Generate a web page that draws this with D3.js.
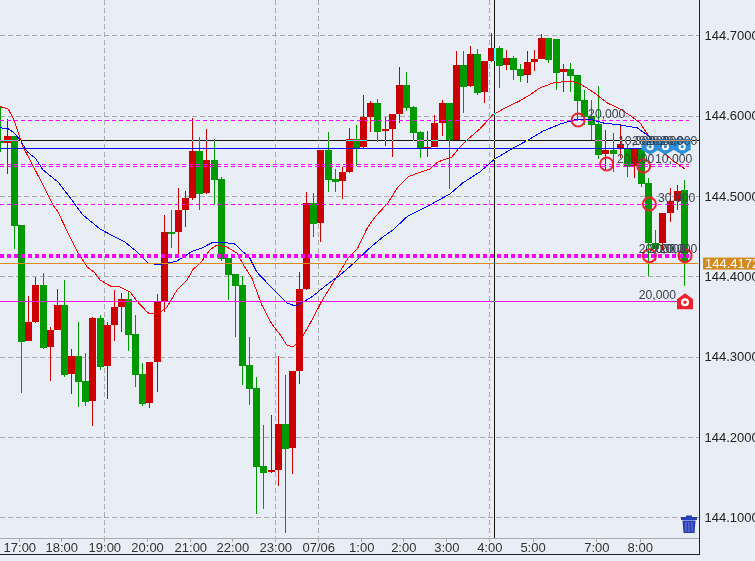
<!DOCTYPE html>
<html>
<head>
<meta charset="utf-8">
<script src="https://cdn.jsdelivr.net/npm/d3@7"></script>
<style>
html,body{margin:0;padding:0;background:#e9edf5;overflow:hidden}
svg{display:block}
text{font-family:"Liberation Sans",Arial,sans-serif}
</style>
</head>
<body>
<div id="chart"></div>
<script>
const opens=[144.5698,144.5661,144.5748,144.4640,144.3196,144.3432,144.3893,144.3121,144.3333,144.3644,144.2785,144.3009,144.2698,144.2449,144.3482,144.2885,144.3395,144.3619,144.3719,144.3283,144.2785,144.2424,144.2934,144.3694,144.4553,144.4553,144.4827,144.4976,144.5561,144.5038,144.5449,144.5213,144.4229,144.4030,144.3893,144.2897,144.2611,144.1640,144.1565,144.1590,144.2163,144.1864,144.2822,144.3843,144.4914,144.4665,144.5574,144.5213,144.5188,144.5300,144.5711,144.5611,144.5984,144.6159,144.5810,144.5835,144.6022,144.6383,144.6109,144.5798,144.5599,144.5611,144.5910,144.6159,144.5698,144.6632,144.6370,144.6769,144.6296,144.6682,144.6843,144.6632,144.6719,144.6582,144.6507,144.6669,144.6707,144.6968,144.6955,144.6545,144.6582,144.6507,144.6196,144.5997,144.5897,144.5524,144.5574,144.5586,144.5599,144.5374,144.5586,144.5163,144.4416,144.4416,144.4789,144.4939,144.5076];
const highs=[144.6109,144.5960,144.5748,144.4640,144.3756,144.3993,144.4042,144.3370,144.3843,144.3955,144.3096,144.3432,144.3046,144.3495,144.3520,144.3432,144.3831,144.3793,144.3806,144.3520,144.2922,144.2934,144.3781,144.4765,144.4827,144.5101,144.5063,144.5972,144.5736,144.5835,144.5711,144.5238,144.4229,144.4030,144.4005,144.3246,144.2748,144.2150,144.2275,144.3009,144.2773,144.2822,144.4055,144.5051,144.5038,144.5574,144.5798,144.5337,144.5362,144.5848,144.5885,144.6258,144.6184,144.6209,144.5984,144.6022,144.6607,144.6545,144.6121,144.5810,144.5810,144.6009,144.6196,144.6159,144.6806,144.6806,144.6868,144.6831,144.6682,144.7030,144.6868,144.6819,144.6744,144.6644,144.6806,144.6819,144.7018,144.6968,144.6955,144.6644,144.6657,144.6507,144.6321,144.6196,144.6370,144.5823,144.5785,144.5897,144.5648,144.5586,144.5586,144.5225,144.4578,144.4789,144.5101,144.5138,144.5200];
const lows=[144.5549,144.5275,144.4341,144.2549,144.3196,144.3420,144.3096,144.2698,144.3333,144.2748,144.2536,144.2374,144.2387,144.2138,144.2835,144.2474,144.3196,144.3308,144.3071,144.2623,144.2387,144.2362,144.2561,144.3557,144.4354,144.4242,144.4615,144.4951,144.4827,144.5026,144.4889,144.4192,144.3706,144.3246,144.2648,144.2399,144.1042,144.1104,144.1553,144.1391,144.0806,144.1540,144.2660,144.3831,144.4491,144.4428,144.5051,144.5051,144.4964,144.5287,144.5374,144.5599,144.5798,144.5673,144.5623,144.5487,144.5910,144.6059,144.5686,144.5474,144.5487,144.5611,144.5748,144.5088,144.5698,144.6034,144.6358,144.6258,144.6159,144.6669,144.6345,144.6570,144.6445,144.6420,144.6408,144.6557,144.6707,144.6657,144.6321,144.6296,144.6296,144.5947,144.5885,144.5698,144.5462,144.5325,144.5300,144.5474,144.5238,144.5225,144.5113,144.4005,144.4192,144.4329,144.4677,144.4827,144.3881];
const closes=[144.5661,144.5748,144.4627,144.3183,144.3432,144.3893,144.3109,144.3333,144.3644,144.2773,144.3009,144.2685,144.2437,144.3482,144.2872,144.3395,144.3619,144.3719,144.3271,144.2773,144.2412,144.2934,144.3681,144.4553,144.4540,144.4827,144.4976,144.5561,144.5026,144.5449,144.5200,144.4217,144.4018,144.3881,144.2885,144.2598,144.1627,144.1553,144.1590,144.2163,144.1851,144.2822,144.3843,144.4914,144.4652,144.5574,144.5200,144.5175,144.5300,144.5711,144.5599,144.5984,144.6159,144.5798,144.5835,144.6022,144.6383,144.6097,144.5785,144.5599,144.5611,144.5910,144.6159,144.5698,144.6632,144.6358,144.6769,144.6283,144.6682,144.6843,144.6619,144.6719,144.6570,144.6495,144.6669,144.6707,144.6968,144.6694,144.6532,144.6582,144.6495,144.6184,144.5984,144.5885,144.5511,144.5574,144.5524,144.5648,144.5362,144.5586,144.5150,144.4416,144.4341,144.4789,144.4939,144.5063,144.4179];

const redIdx=[0,1.1,1.8,2.5,3.2,4.6,6,7.4,8.1,9.5,10.9,12.2,13.3,14,15.4,16.8,18.2,19.3,20.6,21,22.1,23.4,24.8,26.2,27,28.3,29.4,30.4,31.8,33.2,34.3,35.3,36.7,38.1,39.3,40.2,41.1,42.3,43.9,45.2,47.3,48.8,50.1,51.5,52.6,54.4,55.8,57.2,58.6,60.3,61.4,63.4,64.5,65.5,67.3,69.1,71.1,72.9,74.3,75.7,77.6,80,81.4,83.2,85.2,87,88.7,89.8,90.9,92.6,94.3,96.1];
const redVal=[144.6113,144.6084,144.5972,144.5798,144.5611,144.5374,144.5138,144.4889,144.4802,144.4540,144.4291,144.4117,144.4042,144.3955,144.3881,144.3868,144.3806,144.3681,144.3557,144.3532,144.3532,144.3619,144.3831,144.3955,144.4080,144.4192,144.4329,144.4391,144.4366,144.4291,144.4117,144.3980,144.3644,144.3408,144.3271,144.3146,144.3121,144.3233,144.3482,144.3706,144.4005,144.4229,144.4341,144.4603,144.4740,144.4914,144.5113,144.5238,144.5287,144.5337,144.5424,144.5487,144.5611,144.5698,144.5835,144.6009,144.6109,144.6184,144.6258,144.6345,144.6408,144.6433,144.6395,144.6296,144.6159,144.6084,144.5984,144.5910,144.5760,144.5574,144.5449,144.5337];
const blueIdx=[0,1,1.8,2.8,3.8,4.9,6,8.1,9.5,11.6,14,15.8,17.5,19.2,20.7,22.4,24.8,27,28.3,29.9,31.1,32.9,35,36,37.6,40.2,41.4,42.5,43.9,45.6,47.7,49.8,51.6,53.7,55.1,57.2,60.3,63.1,64.9,67.3,69.4,72,74.1,76.2,78.6,81,83.2,84.6,87,89.4,90.8,91.6];
const blueVal=[144.5848,144.5844,144.5798,144.5698,144.5549,144.5474,144.5325,144.5175,144.5014,144.4765,144.4590,144.4503,144.4428,144.4304,144.4167,144.4142,144.4192,144.4316,144.4354,144.4428,144.4428,144.4403,144.4230,144.4055,144.3905,144.3669,144.3632,144.3681,144.3756,144.3881,144.4018,144.4179,144.4335,144.4491,144.4578,144.4752,144.4889,144.5026,144.5163,144.5300,144.5462,144.5599,144.5698,144.5810,144.5897,144.5960,144.5947,144.5910,144.5885,144.5848,144.5760,144.5698];

const yTicks=[144.1,144.2,144.3,144.4,144.5,144.6,144.7];
const timeLabels=["17:00","18:00","19:00","20:00","21:00","22:00","23:00","07/06","1:00","2:00","3:00","4:00","5:00","7:00","8:00"];
const timeIdx=[2.67,8.56,14.6,20.6,26.67,32.57,38.6,44.62,50.66,56.56,62.6,68.63,74.7,83.65,89.75];
const gridTimes=["19:00","23:00","07/06","4:00"];

const dashedLevels=[144.5943,144.5393,144.5371,144.4898,144.4267,144.4242];
const lastPrice=144.4172;
const solidBlueLevel=144.5595;
const solidMagentaLevel=144.3690;
const crossPrice=144.5695;
const crossIdx=69.3;

const circleIdx=[81.1,85.1,90.3,91.1,91.1,96.1];
const circlePrice=[144.5947,144.5399,144.5374,144.4901,144.4258,144.4258];

const noteText=["20,000","10,000","20,000","20,000","20,000","20,000","10,000","30,000","20,000","20,000","20,000","20,000"];
const noteIdx=[82.5,86.7,88.66,90.6,92.6,86.55,91.9,92.3,89.6,91,92.6,89.6];
const notePrice=[144.5972,144.5636,144.5636,144.5636,144.5636,144.5412,144.5412,144.4926,144.4291,144.4291,144.4291,144.3719];

const pinIdx=[91.2,93.35,95.7];
const pinPrice=144.5615;
const stopIdx=96.1;

const W=755,H=561,plotR=699.5,plotB=537.5,frameB=554.5;
const x=d3.scaleLinear().domain([0,96]).range([0.3,684.3]);
const y=d3.scaleLinear().domain([144.1,144.7]).range([517.4,35.4]);
const bg="#e9edf5",up="#cc0000",down="#009900";

const svg=d3.select("#chart").append("svg").attr("width",W).attr("height",H);
svg.append("rect").attr("width",W).attr("height",H).attr("fill",bg);
const plot=svg.append("g");
svg.append("defs").append("clipPath").attr("id","pc").append("rect").attr("width",plotR).attr("height",plotB);
plot.attr("clip-path","url(#pc)");

// grid
const gridG=plot.append("g").attr("stroke","#aaa").attr("stroke-dasharray","5,3").attr("shape-rendering","crispEdges");
gridG.selectAll("line.h").data(yTicks).join("line").attr("class","h")
  .attr("x1",0).attr("x2",plotR).attr("y1",d=>Math.round(y(d))+.5).attr("y2",d=>Math.round(y(d))+.5);
gridG.selectAll("line.v").data(gridTimes).join("line").attr("class","v")
  .attr("y1",0).attr("y2",plotB)
  .attr("x1",d=>Math.round(x(timeIdx[timeLabels.indexOf(d)]))+.5)
  .attr("x2",d=>Math.round(x(timeIdx[timeLabels.indexOf(d)]))+.5);

// candles
const candles=opens.map((o,i)=>({i,o,h:highs[i],l:lows[i],c:closes[i]}));
const cg=plot.append("g").attr("shape-rendering","crispEdges");
const col=d=>d.c>=d.o?up:down;
cg.selectAll("rect.w").data(candles).join("rect").attr("class","w")
  .attr("x",d=>Math.round(x(d.i)-.5)).attr("width",1)
  .attr("y",d=>y(d.h)).attr("height",d=>y(d.l)-y(d.h)).attr("fill",col);
cg.selectAll("rect.b").data(candles).join("rect").attr("class","b")
  .attr("x",d=>Math.round(x(d.i)-3.5)).attr("width",7)
  .attr("y",d=>Math.round(y(Math.max(d.o,d.c))))
  .attr("height",d=>Math.max(2,Math.round(y(Math.min(d.o,d.c)))-Math.round(y(Math.max(d.o,d.c)))))
  .attr("fill",col);

// moving averages
const line=d3.line().x(d=>x(d[0])).y(d=>y(d[1]));
plot.append("path").datum(redIdx.map((d,i)=>[d,redVal[i]])).attr("d",line)
  .attr("fill","none").attr("stroke","#ff0000").attr("stroke-width",1).attr("shape-rendering","crispEdges");
plot.append("path").datum(blueIdx.map((d,i)=>[d,blueVal[i]])).attr("d",line)
  .attr("fill","none").attr("stroke","#0000ff").attr("stroke-width",1).attr("shape-rendering","crispEdges");

// horizontal levels
const lv=plot.append("g").attr("shape-rendering","crispEdges");
lv.selectAll("line.d").data(dashedLevels).join("line").attr("class","d")
  .attr("x1",0).attr("x2",689)
  .attr("y1",d=>y(d)).attr("y2",d=>y(d))
  .attr("stroke","#ff00ff").attr("stroke-width",1.5).attr("stroke-dasharray","4,3");
lv.append("rect").attr("x",0).attr("width",698).attr("y",Math.round(y(lastPrice))).attr("height",1).attr("fill","#e08a1a");
lv.append("rect").attr("x",0).attr("width",690).attr("y",Math.round(y(solidBlueLevel))).attr("height",1).attr("fill","#0000ff");
lv.append("rect").attr("x",0).attr("width",678).attr("y",Math.round(y(solidMagentaLevel))).attr("height",1).attr("fill","#ee10dd");

// circles
plot.append("g").selectAll("circle").data(circleIdx).join("circle")
  .attr("cx",d=>x(d)).attr("cy",(d,i)=>y(circlePrice[i])).attr("r",6.5)
  .attr("fill","none").attr("stroke","#ee2233").attr("stroke-width",2);

// pins
const pins=plot.append("g").selectAll("g").data(pinIdx).join("g")
  .attr("transform",d=>`translate(${x(d)},${y(pinPrice)})`);
pins.append("path").attr("d","M-8.5,-8 L8.5,-8 L8.5,3 L0,8 L-8.5,3 Z").attr("fill","#2b8fdb");
pins.append("circle").attr("r",3.6).attr("fill","#fff");
pins.append("circle").attr("r",1.6).attr("fill","#2b8fdb");

// stop marker
const stop=plot.append("g").attr("transform",`translate(${x(stopIdx)},${y(solidMagentaLevel)})`);
stop.append("path").attr("d","M0,-8 L8,-2 L8,8 L-8,8 L-8,-2 Z").attr("fill","#f0202c");
stop.append("circle").attr("cy",1).attr("r",4).attr("fill","#fff");
stop.append("circle").attr("cy",1).attr("r",1.7).attr("fill","#f0202c");

// trash icon
const tr=plot.append("g").attr("transform","translate(689,517)");
tr.append("rect").attr("x",-8).attr("y",0).attr("width",16).attr("height",3).attr("fill","#2a3fb5");
tr.append("path").attr("d","M-6.5,3.5 L6.5,3.5 L5.5,16 L-5.5,16 Z").attr("fill","#2a3fb5");
tr.append("rect").attr("x",-3).attr("y",-1.5).attr("width",6).attr("height",2).attr("fill","#2a3fb5");
[-3,0,3].forEach(dx=>tr.append("line").attr("x1",dx).attr("x2",dx).attr("y1",5).attr("y2",15).attr("stroke","#7f8fe0").attr("stroke-width",.8));

// notes drawn over the pins
plot.append("g").selectAll("text").data(noteText).join("text")
  .attr("x",(d,i)=>x(noteIdx[i])).attr("y",(d,i)=>y(notePrice[i]))
  .attr("font-size",12.2).attr("fill","#3c4250").text(d=>d);

// crosshair (inverts whatever it crosses)
const cross=svg.append("g").attr("shape-rendering","crispEdges");
cross.append("line").attr("x1",0).attr("x2",plotR).attr("y1",Math.round(y(crossPrice))+.5).attr("y2",Math.round(y(crossPrice))+.5)
  .attr("stroke","#fff").style("mix-blend-mode","difference");
cross.append("line").attr("y1",0).attr("y2",plotB).attr("x1",Math.round(x(crossIdx))+.5).attr("x2",Math.round(x(crossIdx))+.5)
  .attr("stroke","#fff").style("mix-blend-mode","difference");

// axes
const yAxis=d3.axisRight(y).tickValues(yTicks).tickSize(0).tickPadding(5).tickFormat(d3.format(".4f"));
const ya=svg.append("g").attr("transform",`translate(${plotR},0)`).call(yAxis);
ya.select(".domain").remove();
ya.selectAll("text").attr("font-size",13).attr("font-family",'"Liberation Sans",Arial,sans-serif').attr("fill","#222");

const xAxis=d3.axisBottom(x).tickValues(timeIdx).tickSize(4).tickPadding(1).tickFormat((d,i)=>timeLabels[i]);
const xa=svg.append("g").attr("transform",`translate(0,${plotB})`).call(xAxis);
xa.select(".domain").remove();
xa.selectAll("line").attr("stroke","#aaa").attr("shape-rendering","crispEdges");
xa.selectAll("text").attr("font-size",13).attr("font-family",'"Liberation Sans",Arial,sans-serif').attr("fill","#333");

const fr=svg.append("g").attr("shape-rendering","crispEdges");
fr.append("line").attr("x1",0).attr("x2",plotR).attr("y1",plotB+.5).attr("y2",plotB+.5).attr("stroke","#aaa");
fr.append("line").attr("x1",0).attr("x2",plotR).attr("y1",frameB).attr("y2",frameB).attr("stroke","#222");
fr.append("line").attr("x1",plotR).attr("x2",plotR).attr("y1",0).attr("y2",frameB).attr("stroke","#222");

// last price tag
const tag=svg.append("g");
tag.append("rect").attr("x",703).attr("y",y(lastPrice)-5).attr("width",52).attr("height",12).attr("fill","#d58a1e");
tag.append("text").attr("x",705).attr("y",y(lastPrice)+5.5).attr("font-size",13).attr("fill","#fff").text(lastPrice.toFixed(4));
</script>
</body>
</html>
